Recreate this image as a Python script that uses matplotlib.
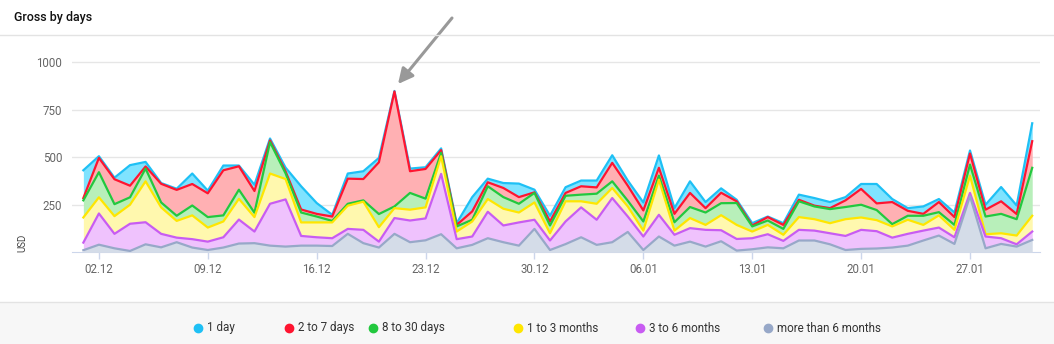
import numpy as np
import matplotlib
matplotlib.use("Agg")
import matplotlib.pyplot as plt
from matplotlib.lines import Line2D
from matplotlib.patches import Rectangle

plt.rcParams['font.family'] = ['Roboto', 'DejaVu Sans']

# ---------------- data ----------------
days = np.arange(62)  # 01.12 ... 31.01
tick_days = [1, 8, 15, 22, 29, 36, 43, 50, 57]
tick_labels = ["02.12", "09.12", "16.12", "23.12", "30.12",
               "06.01", "13.01", "20.01", "27.01"]
y_ticks = [250, 500, 750, 1000]
y_tick_labels = ["250", "500", "750", "1000"]

series_names = ["1 day", "2 to 7 days", "8 to 30 days",
                "1 to 3 months", "3 to 6 months", "more than 6 months"]

one_day = [146, 9, 8, 108, 24, 4, 6, 55, 14, 25,
           4, 33, 10, 20, 122, 57, 9, 27, 41, 23,
           3, 14, 9, 9, 9, 75, 19, 26, 71, 14,
           30, 30, 30, 36, 40, 27, 42, 65, 30, 61,
           32, 23, 8, 12, 3, 9, 27, 40, 32, 17,
           26, 102, 16, 14, 39, 16, 24, 16, 26, 75,
           45, 94]
two_to_seven = [12, 75, 131, 61, 11, 98, 136, 113, 125, 237,
                123, 114, 9, 10, 16, 14, 23, 132, 112, 272,
                604, 114, 156, 14, 8, 44, 21, 48, 35, 3,
                21, 15, 44, 33, 97, 79, 58, 41, 44, 74,
                23, 55, 9, 5, 18, 21, 8, 4, 5, 35,
                83, 35, 116, 26, 10, 53, 41, 58, 36, 66,
                27, 140]
eight_to_thirty = [90, 132, 63, 39, 67, 26, 27, 52, 55, 32,
                   48, 23, 165, 30, 52, 31, 8, 10, 7, 69,
                   9, 88, 46, 18, 27, 9, 67, 61, 46, 50,
                   41, 29, 35, 53, 35, 30, 48, 21, 44, 58,
                   65, 63, 115, 27, 23, 31, 83, 67, 74, 64,
                   67, 53, 12, 21, 48, 17, 26, 58, 93, 102,
                   86, 252]
one_to_three_m = [132, 85, 93, 100, 215, 139, 88, 125, 74, 83,
                  109, 76, 159, 107, 71, 78, 83, 122, 148, 76,
                  52, 57, 58, 93, 40, 79, 67, 88, 52, 91,
                  38, 106, 32, 84, 53, 53, 31, 185, 22, 53,
                  26, 79, 74, 35, 49, 32, 67, 60, 53, 88,
                  65, 58, 59, 74, 30, 64, 39, 91, 12, 26,
                  46, 83]
three_to_six_m = [40, 164, 76, 143, 116, 71, 24, 44, 44, 54,
                  126, 61, 220, 248, 51, 44, 41, 26, 70, 31,
                  83, 114, 115, 317, 48, 44, 139, 88, 122, 48,
                  50, 119, 157, 132, 232, 81, 71, 114, 57, 71,
                  88, 58, 61, 58, 69, 39, 56, 52, 58, 74,
                  100, 91, 52, 62, 52, 42, 35, 17, 62, 30,
                  12, 44]
more_than_six_m = [11, 40, 21, 7, 42, 26, 53, 25, 12, 25,
                   46, 48, 35, 30, 35, 35, 33, 97, 48, 25,
                   97, 53, 63, 95, 21, 39, 74, 53, 35, 123,
                   12, 43, 79, 39, 53, 107, 12, 83, 35, 56,
                   30, 58, 9, 16, 26, 21, 62, 62, 42, 12,
                   18, 20, 25, 35, 62, 88, 44, 295, 21, 44,
                   30, 65]

series = [one_day, two_to_seven, eight_to_thirty,
          one_to_three_m, three_to_six_m, more_than_six_m]
line_colors = ["#1ec0f5", "#ff1430", "#22c83e", "#ffe600", "#c85cf2", "#97a8c8"]
fill_colors = ["#7fe3ff", "#ffb0b3", "#b8efba", "#fff8ae", "#efc2fd", "#d4dce8"]

# ---------------- figure ----------------
W, H = 1054, 344
fig = plt.figure(figsize=(W / 100, H / 100), dpi=100)
fig.patch.set_facecolor("white")

# bottom legend band
fig.add_artist(Rectangle((0, 0), 1, (H - 302) / H, transform=fig.transFigure,
                         facecolor="#f7f7f7", edgecolor="none", zorder=0))
fig.add_artist(Line2D([0, 1], [(H - 302) / H] * 2, transform=fig.transFigure,
                      color="#e3e3e3", lw=1))
# header separator
fig.add_artist(Line2D([0, 1], [(H - 35) / H] * 2, transform=fig.transFigure,
                      color="#e3e3e3", lw=1))
fig.text(14 / W, (H - 18) / H, "Gross by days", fontsize=9, fontweight="medium",
         color="#111111", ha="left", va="center")

ax_left, ax_right = 72, 1040
y0_px, top_px = 252.3, 52.5
ax = fig.add_axes([ax_left / W, (H - y0_px) / H,
                   (ax_right - ax_left) / W, (y0_px - top_px) / H])
ax.set_facecolor("none")
ax.set_xlim(-0.73, 61.5)
ax.set_ylim(0, 1050)

# stacking bottom-up (last series is at the bottom)
order = list(range(len(series)))[::-1]
lower = np.zeros(len(days))
bounds = {}
for i in order:
    upper = lower + np.array(series[i], dtype=float)
    bounds[i] = (lower.copy(), upper.copy())
    lower = upper

for z, i in enumerate(range(len(series))):
    lo, up = bounds[i]
    ax.fill_between(days, lo, up, color=fill_colors[i], lw=0, zorder=2 + z)
    ax.plot(days, up, color=line_colors[i], lw=1.6, zorder=2 + z,
            solid_joinstyle="round")

ax.set_yticks(y_ticks)
ax.set_yticklabels(y_tick_labels)
ax.set_xticks(tick_days)
ax.set_xticklabels(tick_labels)
ax.grid(axis="y", color="#e6e6e6", lw=1, zorder=0)
for s in ["top", "right", "left"]:
    ax.spines[s].set_visible(False)
ax.spines["bottom"].set_color("#ccd6eb")
ax.tick_params(axis="y", length=0, pad=7, labelsize=8.3, labelcolor="#666666")
ax.tick_params(axis="x", length=5, width=1, color="#ccd6eb", pad=3,
               labelsize=8.3, labelcolor="#666666")

fig.text(22 / W, (H - 243) / H, "USD", rotation=90, fontsize=7, color="#444444",
         ha="center", va="center")

# arrow pointing at the peak
ax.annotate("", xy=(398 / W, (H - 84) / H), xycoords="figure fraction",
            xytext=(452 / W, (H - 18) / H), textcoords="figure fraction",
            arrowprops=dict(arrowstyle="-|>,head_length=0.9,head_width=0.45",
                            color="#999999", lw=2.2, shrinkA=0, shrinkB=0))

# legend
dot_x = [198, 289, 373, 518, 640, 768]
ly = (H - 328) / H
for i, name in enumerate(series_names):
    fig.add_artist(Line2D([dot_x[i] / W], [ly], transform=fig.transFigure,
                          marker="o", markersize=6, color=line_colors[i], lw=0))
    fig.text((dot_x[i] + 9) / W, ly, name, fontsize=8.4, color="#333333",
             ha="left", va="center")

fig.savefig("out.png", dpi=100)
